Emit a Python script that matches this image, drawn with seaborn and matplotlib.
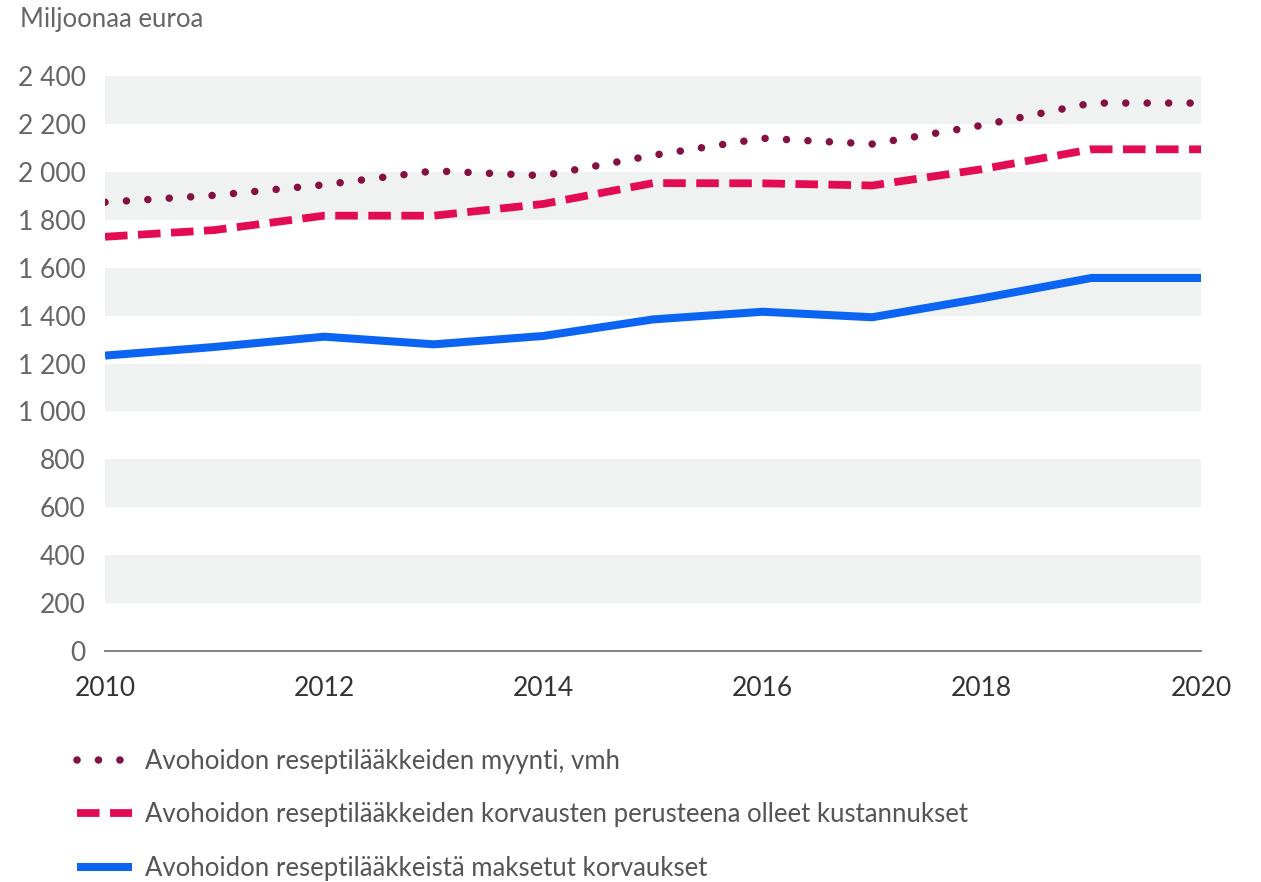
import numpy as np
import pandas as pd
import seaborn as sns
import matplotlib.pyplot as plt

# data (million euros)
years = [2010, 2011, 2012, 2013, 2014, 2015, 2016, 2017, 2018, 2019, 2020]
sales = [1873, 1902, 1946, 2004, 1984, 2069, 2140, 2116, 2194, 2287, 2287]
reimb_costs = [1729, 1757, 1817, 1817, 1866, 1953, 1952, 1943, 2011, 2094, 2094]
reimb_paid = [1233, 1269, 1312, 1280, 1315, 1384, 1416, 1393, 1472, 1557, 1557]

labels = ['Avohoidon reseptilääkkeiden myynti, vmh',
          'Avohoidon reseptilääkkeiden korvausten perusteena olleet kustannukset',
          'Avohoidon reseptilääkkeistä maksetut korvaukset']
y_ticks = [0, 200, 400, 600, 800, 1000, 1200, 1400, 1600, 1800, 2000, 2200, 2400]
x_labels = [2010, 2012, 2014, 2016, 2018, 2020]

sns.set_style('white')
plt.rcParams['font.family'] = ['Lato', 'DejaVu Sans']

fig = plt.figure(figsize=(12.61, 8.82), dpi=100)
ax = fig.add_axes([105/1261, 1-651/882, (1201-105)/1261, (651-76)/882])

# alternating grey bands
for lo in y_ticks[1::2]:
    ax.axhspan(lo, lo + 200, color='#f0f2f2', lw=0, zorder=0)

df = pd.DataFrame({'year': years, 'sales': sales, 'costs': reimb_costs, 'paid': reimb_paid})

sns.lineplot(data=df, x='year', y='sales', ax=ax, color='#861041', lw=5.4,
             linestyle=(0, (0.01, 2.85)), dash_capstyle='round', label=labels[0])
sns.lineplot(data=df, x='year', y='costs', ax=ax, color='#e30c52', lw=5.6,
             linestyle=(0, (2.9, 1.35)), dash_capstyle='butt', label=labels[1])
sns.lineplot(data=df, x='year', y='paid', ax=ax, color='#0c64f2', lw=5.8,
             solid_capstyle='butt', label=labels[2])

ax.set_xlim(2010, 2020)
ax.set_ylim(0, 2400)
ax.set_yticks(y_ticks)
ax.set_yticklabels(['{:,}'.format(v).replace(',', ' ') for v in y_ticks])
ax.set_xticks(years)
ax.set_xticklabels([str(y) if y in x_labels else '' for y in years])
ax.tick_params(axis='y', length=0, pad=14, labelsize=19, labelcolor='#666666')
ax.tick_params(axis='x', length=11, width=1.3, color='#777777', direction='out',
               pad=7, labelsize=19, labelcolor='#333333')
ax.set_xlabel('')
ax.set_ylabel('')
for s in ['top', 'left', 'right']:
    ax.spines[s].set_visible(False)
ax.spines['bottom'].set_color('#777777')
ax.spines['bottom'].set_linewidth(1.3)
ax.set_facecolor('white')

fig.text(20/1261, 1-20/882, 'Miljoonaa euroa', fontsize=18.5, color='#666666',
         va='center', ha='left')

handles, labs = ax.get_legend_handles_labels()
ax.get_legend().remove()
leg = fig.legend(handles, labs, loc='upper left', bbox_to_anchor=(54/1261, 1-726/882),
                 frameon=False, handlelength=2.15, handletextpad=0.5,
                 labelspacing=1.1, prop={'size': 18.5})
for t in leg.get_texts():
    t.set_color('#555555')

fig.savefig('out.png', dpi=100)
